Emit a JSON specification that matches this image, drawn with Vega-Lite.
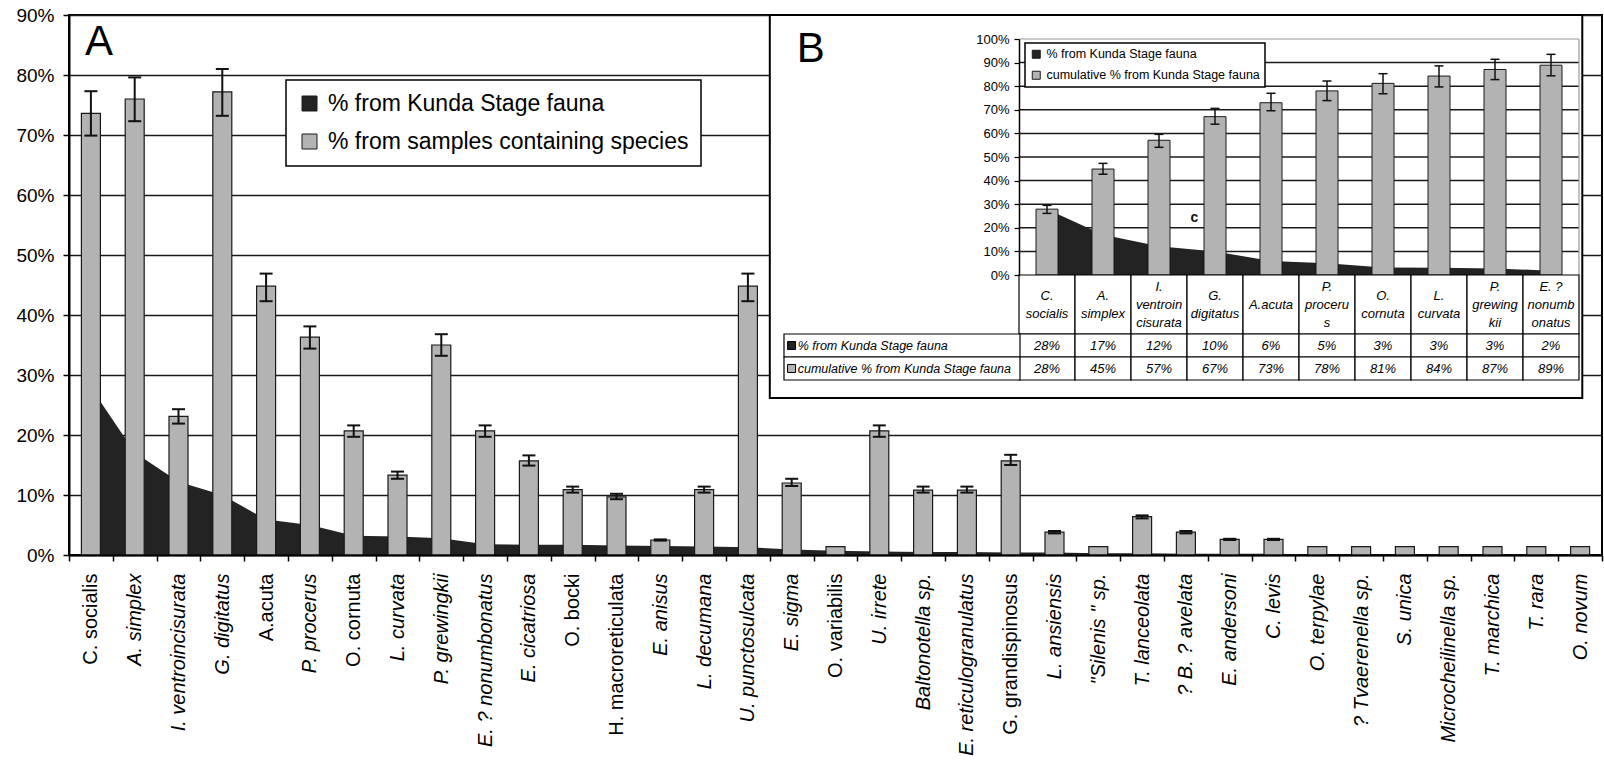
{
  "$schema": "https://vega.github.io/schema/vega-lite/v6.json",
  "width": 1533,
  "height": 540,
  "autosize": {"type": "none"},
  "padding": {"left": 69, "top": 15, "right": 2, "bottom": 205},
  "background": "white",
  "config": {
    "font": "Liberation Sans",
    "view": {"stroke": "black", "strokeWidth": 2},
    "axis": {"domainColor": "black", "tickColor": "black", "labelColor": "black"},
    "legend": {"strokeWidth": 1.5}
  },
  "datasets": {
    "main": [
      {"species": "C. socialis", "kunda": 0.279, "samples": 0.736, "lo": 0.699, "hi": 0.773},
      {"species": "A. simplex", "kunda": 0.171, "samples": 0.760, "lo": 0.723, "hi": 0.796},
      {"species": "I. ventroincisurata", "kunda": 0.122, "samples": 0.231, "lo": 0.219, "hi": 0.243},
      {"species": "G. digitatus", "kunda": 0.100, "samples": 0.772, "lo": 0.732, "hi": 0.810},
      {"species": "A.acuta", "kunda": 0.059, "samples": 0.448, "lo": 0.423, "hi": 0.469},
      {"species": "P. procerus", "kunda": 0.050, "samples": 0.363, "lo": 0.344, "hi": 0.381},
      {"species": "O. cornuta", "kunda": 0.032, "samples": 0.207, "lo": 0.197, "hi": 0.216},
      {"species": "L. curvata", "kunda": 0.031, "samples": 0.133, "lo": 0.127, "hi": 0.139},
      {"species": "P. grewingkii", "kunda": 0.028, "samples": 0.350, "lo": 0.332, "hi": 0.368},
      {"species": "E. ? nonumbonatus", "kunda": 0.018, "samples": 0.207, "lo": 0.197, "hi": 0.216},
      {"species": "E. cicatriosa", "kunda": 0.017, "samples": 0.157, "lo": 0.149, "hi": 0.166},
      {"species": "O. bocki", "kunda": 0.017, "samples": 0.109, "lo": 0.104, "hi": 0.114},
      {"species": "H. macroreticulata", "kunda": 0.016, "samples": 0.097, "lo": 0.093, "hi": 0.102},
      {"species": "E. anisus", "kunda": 0.015, "samples": 0.025, "lo": 0.024, "hi": 0.026},
      {"species": "L. decumana", "kunda": 0.014, "samples": 0.109, "lo": 0.104, "hi": 0.114},
      {"species": "U. punctosulcata", "kunda": 0.013, "samples": 0.448, "lo": 0.423, "hi": 0.469},
      {"species": "E. sigma", "kunda": 0.009, "samples": 0.120, "lo": 0.115, "hi": 0.127},
      {"species": "O. variabilis", "kunda": 0.007, "samples": 0.0139},
      {"species": "U. irrete", "kunda": 0.006, "samples": 0.207, "lo": 0.197, "hi": 0.216},
      {"species": "Baltonotella sp.", "kunda": 0.005, "samples": 0.108, "lo": 0.104, "hi": 0.114},
      {"species": "E. reticulogranulatus", "kunda": 0.005, "samples": 0.108, "lo": 0.104, "hi": 0.114},
      {"species": "G. grandispinosus", "kunda": 0.004, "samples": 0.157, "lo": 0.150, "hi": 0.167},
      {"species": "L. ansiensis", "kunda": 0.004, "samples": 0.038, "lo": 0.036, "hi": 0.040},
      {"species": "\"Silenis \" sp.", "kunda": 0.003, "samples": 0.0139},
      {"species": "T. lanceolata", "kunda": 0.003, "samples": 0.064, "lo": 0.061, "hi": 0.066},
      {"species": "? B. ? avelata", "kunda": 0.002, "samples": 0.038, "lo": 0.036, "hi": 0.040},
      {"species": "E. andersoni", "kunda": 0.002, "samples": 0.026, "lo": 0.025, "hi": 0.027},
      {"species": "C. levis", "kunda": 0.002, "samples": 0.026, "lo": 0.025, "hi": 0.027},
      {"species": "O. terpylae", "kunda": 0.001, "samples": 0.0139},
      {"species": "? Tvaerenella sp.", "kunda": 0.001, "samples": 0.0139},
      {"species": "S. unica", "kunda": 0.001, "samples": 0.0139},
      {"species": "Microcheilinella sp.", "kunda": 0.001, "samples": 0.0139},
      {"species": "T. marchica", "kunda": 0.001, "samples": 0.0139},
      {"species": "T. rara", "kunda": 0.001, "samples": 0.0139},
      {"species": "O. novum", "kunda": 0.001, "samples": 0.0139}
    ],
    "inset": [
      {"species": "C. socialis", "hdr": "C.\nsocialis", "kunda": 0.279, "cum": 0.279, "lo": 0.261, "hi": 0.295},
      {"species": "A. simplex", "hdr": "A.\nsimplex", "kunda": 0.171, "cum": 0.449, "lo": 0.427, "hi": 0.473},
      {"species": "I. ventroincisurata", "hdr": "I.\nventroin\ncisurata", "kunda": 0.122, "cum": 0.571, "lo": 0.541, "hi": 0.596},
      {"species": "G. digitatus", "hdr": "G.\ndigitatus", "kunda": 0.100, "cum": 0.671, "lo": 0.639, "hi": 0.706},
      {"species": "A.acuta", "hdr": "A.acuta", "kunda": 0.059, "cum": 0.730, "lo": 0.696, "hi": 0.770},
      {"species": "P. procerus", "hdr": "P.\nproceru\ns", "kunda": 0.050, "cum": 0.780, "lo": 0.739, "hi": 0.822},
      {"species": "O. cornuta", "hdr": "O.\ncornuta", "kunda": 0.032, "cum": 0.812, "lo": 0.768, "hi": 0.853},
      {"species": "L. curvata", "hdr": "L.\ncurvata", "kunda": 0.031, "cum": 0.843, "lo": 0.797, "hi": 0.886},
      {"species": "P. grewingkii", "hdr": "P.\ngrewing\nkii", "kunda": 0.028, "cum": 0.871, "lo": 0.828, "hi": 0.914},
      {"species": "E. ? nonumbonatus", "hdr": "E. ?\nnonumb\nonatus", "kunda": 0.018, "cum": 0.889, "lo": 0.844, "hi": 0.935}
    ],
    "insetgrid": [
      {"g": 0.1}, {"g": 0.2}, {"g": 0.3}, {"g": 0.4}, {"g": 0.5}, {"g": 0.6}, {"g": 0.7}, {"g": 0.8}, {"g": 0.9}
    ]
  },
  "layer": [
    {
      "data": {"name": "main"},
      "encoding": {
        "x": {
          "field": "species", "type": "nominal",
          "scale": {
            "domain": ["C. socialis", "A. simplex", "I. ventroincisurata", "G. digitatus", "A.acuta", "P. procerus", "O. cornuta", "L. curvata", "P. grewingkii", "E. ? nonumbonatus", "E. cicatriosa", "O. bocki", "H. macroreticulata", "E. anisus", "L. decumana", "U. punctosulcata", "E. sigma", "O. variabilis", "U. irrete", "Baltonotella sp.", "E. reticulogranulatus", "G. grandispinosus", "L. ansiensis", "\"Silenis \" sp.", "T. lanceolata", "? B. ? avelata", "E. andersoni", "C. levis", "O. terpylae", "? Tvaerenella sp.", "S. unica", "Microcheilinella sp.", "T. marchica", "T. rara", "O. novum"],
            "paddingInner": 0, "paddingOuter": 0
          },
          "axis": {
            "title": null, "labelAngle": 270, "labelFontSize": 20,
            "labelFontStyle": {"condition": {"test": "indexof(['C. socialis','A.acuta','O. cornuta','O. bocki','H. macroreticulata','O. variabilis','G. grandispinosus'], datum.value) >= 0", "value": "normal"}, "value": "italic"},
            "labelPadding": 12, "labelOverlap": false, "labelLimit": 300,
            "tickSize": 6, "tickWidth": 1.5, "tickBand": "extent", "domainWidth": 2, "zindex": 1
          }
        }
      },
      "layer": [
        {
          "mark": {"type": "area", "interpolate": "linear", "opacity": 1},
          "encoding": {
            "y": {
              "field": "kunda", "type": "quantitative", "stack": null,
              "scale": {"domain": [0, 0.9], "nice": false},
              "axis": {"title": null, "values": [0, 0.1, 0.2, 0.3, 0.4, 0.5, 0.6, 0.7, 0.8, 0.9], "format": ".0%", "labelFontSize": 19, "labelPadding": 9, "tickSize": 6, "tickWidth": 1.5, "domainWidth": 2, "grid": true, "gridColor": "#1a1a1a", "gridWidth": 1.6}
            },
            "color": {
              "datum": "% from Kunda Stage fauna", "type": "nominal",
              "scale": {"domain": ["% from Kunda Stage fauna", "% from samples containing species"], "range": ["#232323", "#b3b3b3"]},
              "legend": {"title": null, "orient": "none", "legendX": 217, "legendY": 65, "labelFontSize": 23, "labelLimit": 500, "symbolType": "square", "symbolSize": 225, "symbolStrokeColor": "black", "symbolStrokeWidth": 1, "symbolOpacity": 1, "fillColor": "white", "strokeColor": "black", "padding": 12, "rowPadding": 14, "labelOffset": 7}
            }
          }
        },
        {
          "mark": {"type": "bar", "size": 19, "stroke": "#1a1a1a", "strokeWidth": 1.2, "opacity": 1},
          "encoding": {
            "y": {"field": "samples", "type": "quantitative", "stack": null},
            "color": {"datum": "% from samples containing species", "type": "nominal"}
          }
        },
        {
          "transform": [{"filter": "isValid(datum.lo)"}],
          "mark": {"type": "rule", "color": "#111111", "strokeWidth": 2},
          "encoding": {"y": {"field": "lo", "type": "quantitative"}, "y2": {"field": "hi"}}
        },
        {
          "transform": [{"filter": "isValid(datum.lo)"}],
          "mark": {"type": "tick", "color": "#111111", "size": 13, "thickness": 2, "opacity": 1},
          "encoding": {"y": {"field": "lo", "type": "quantitative"}}
        },
        {
          "transform": [{"filter": "isValid(datum.hi)"}],
          "mark": {"type": "tick", "color": "#111111", "size": 13, "thickness": 2, "opacity": 1},
          "encoding": {"y": {"field": "hi", "type": "quantitative"}}
        },
        {
          "data": {"values": [{"panel": "B"}]},
          "mark": {"type": "rect", "fill": "white", "stroke": "black", "strokeWidth": 2},
          "encoding": {
            "x": {"datum": "E. sigma", "bandPosition": 0},
            "x2": {"datum": "O. novum", "bandPosition": 0.55},
            "y": {"datum": 0.9, "type": "quantitative"},
            "y2": {"datum": 0.2617}
          }
        },
        {
          "data": {"values": [{"panel": "A"}]},
          "mark": {"type": "text", "fontSize": 42, "align": "left", "baseline": "alphabetic", "dx": 16, "color": "black"},
          "encoding": {
            "x": {"datum": "C. socialis", "bandPosition": 0},
            "y": {"datum": 0.8333, "type": "quantitative"},
            "text": {"field": "panel"}
          }
        },
        {
          "data": {"values": [{"panel": "B"}]},
          "mark": {"type": "text", "fontSize": 42, "align": "left", "baseline": "alphabetic", "dx": 27, "color": "black"},
          "encoding": {
            "x": {"datum": "E. sigma", "bandPosition": 0},
            "y": {"datum": 0.8217, "type": "quantitative"},
            "text": {"field": "panel"}
          }
        }
      ]
    },
    {
      "data": {"name": "inset"},
      "encoding": {
        "x": {
          "field": "species", "type": "nominal",
          "scale": {
            "domain": ["C. socialis", "A. simplex", "I. ventroincisurata", "G. digitatus", "A.acuta", "P. procerus", "O. cornuta", "L. curvata", "P. grewingkii", "E. ? nonumbonatus"],
            "range": [950, 1510], "paddingInner": 0, "paddingOuter": 0
          },
          "axis": null
        }
      },
      "layer": [
        {
          "layer": [
            {
              "data": {"name": "insetgrid"},
              "mark": {"type": "rule", "color": "#1a1a1a", "strokeWidth": 1.5},
              "encoding": {
                "x": {"datum": "C. socialis", "bandPosition": 0},
                "x2": {"datum": "E. ? nonumbonatus", "bandPosition": 1},
                "y": {
                  "field": "g", "type": "quantitative",
                  "scale": {"domain": [0, 1], "range": [260, 24], "nice": false},
                  "axis": {"title": null, "orient": "left", "offset": -950, "zindex": 1, "grid": false, "values": [0, 0.1, 0.2, 0.3, 0.4, 0.5, 0.6, 0.7, 0.8, 0.9, 1], "format": ".0%", "labelFontSize": 13, "labelPadding": 5, "tickSize": 5, "tickWidth": 1.2, "domainWidth": 1.5}
                }
              }
            },
            {
              "data": {"values": [{"edge": "top"}]},
              "mark": {"type": "rule", "color": "#9a9a9a", "strokeWidth": 1.2},
              "encoding": {
                "x": {"datum": "C. socialis", "bandPosition": 0},
                "x2": {"datum": "E. ? nonumbonatus", "bandPosition": 1},
                "y": {"datum": 1, "type": "quantitative"}
              }
            },
            {
              "data": {"values": [{"edge": "right"}]},
              "mark": {"type": "rule", "color": "#9a9a9a", "strokeWidth": 1.2},
              "encoding": {
                "x": {"datum": "E. ? nonumbonatus", "bandPosition": 1},
                "y": {"datum": 0, "type": "quantitative"},
                "y2": {"datum": 1}
              }
            },
            {
              "mark": {"type": "area", "interpolate": "linear", "opacity": 1},
              "encoding": {
                "y": {"field": "kunda", "type": "quantitative", "stack": null},
                "color": {
                  "datum": "% from Kunda Stage fauna", "type": "nominal",
                  "scale": {"domain": ["% from Kunda Stage fauna", "cumulative % from Kunda Stage fauna"], "range": ["#232323", "#b3b3b3"]},
                  "legend": {"title": null, "orient": "none", "legendX": 956, "legendY": 28, "labelFontSize": 12.5, "labelLimit": 400, "symbolType": "square", "symbolSize": 64, "symbolStrokeColor": "black", "symbolStrokeWidth": 1, "symbolOpacity": 1, "fillColor": "white", "strokeColor": "black", "padding": 5, "rowPadding": 8, "labelOffset": 4}
                }
              }
            },
            {
              "mark": {"type": "bar", "size": 22, "stroke": "#1a1a1a", "strokeWidth": 1, "opacity": 1},
              "encoding": {
                "y": {"field": "cum", "type": "quantitative", "stack": null},
                "color": {"datum": "cumulative % from Kunda Stage fauna", "type": "nominal"}
              }
            },
            {
              "mark": {"type": "rule", "color": "#111111", "strokeWidth": 1.5},
              "encoding": {"y": {"field": "lo", "type": "quantitative"}, "y2": {"field": "hi"}}
            },
            {
              "mark": {"type": "tick", "color": "#111111", "size": 9, "thickness": 1.5, "opacity": 1},
              "encoding": {"y": {"field": "lo", "type": "quantitative"}}
            },
            {
              "mark": {"type": "tick", "color": "#111111", "size": 9, "thickness": 1.5, "opacity": 1},
              "encoding": {"y": {"field": "hi", "type": "quantitative"}}
            },
            {
              "data": {"values": [{"t": "c"}]},
              "mark": {"type": "text", "fontSize": 14, "fontWeight": "bold", "align": "center", "baseline": "middle", "color": "#111111"},
              "encoding": {
                "x": {"datum": "G. digitatus", "bandPosition": 0.13},
                "y": {"datum": 0.241, "type": "quantitative"},
                "text": {"field": "t"}
              }
            }
          ]
        },
        {
          "layer": [
            {
              "mark": {"type": "rect", "fill": "white", "stroke": "black", "strokeWidth": 1.2},
              "encoding": {
                "y": {"datum": "header", "type": "nominal", "scale": {"domain": ["header"], "range": [260, 319], "paddingInner": 0, "paddingOuter": 0}, "axis": null}
              }
            },
            {
              "transform": [{"filter": "length(split(datum.hdr, '\\n')) == 1"}],
              "mark": {"type": "text", "lineBreak": "\n", "fontSize": 13, "fontStyle": "italic", "lineHeight": 18, "baseline": "middle", "align": "center", "color": "black"},
              "encoding": {
                "y": {"datum": "header", "type": "nominal"},
                "text": {"field": "hdr"}
              }
            },
            {
              "transform": [{"filter": "length(split(datum.hdr, '\\n')) == 2"}],
              "mark": {"type": "text", "lineBreak": "\n", "fontSize": 13, "fontStyle": "italic", "lineHeight": 18, "baseline": "middle", "align": "center", "dy": -9, "color": "black"},
              "encoding": {
                "y": {"datum": "header", "type": "nominal"},
                "text": {"field": "hdr"}
              }
            },
            {
              "transform": [{"filter": "length(split(datum.hdr, '\\n')) == 3"}],
              "mark": {"type": "text", "lineBreak": "\n", "fontSize": 13, "fontStyle": "italic", "lineHeight": 18, "baseline": "middle", "align": "center", "dy": -18, "color": "black"},
              "encoding": {
                "y": {"datum": "header", "type": "nominal"},
                "text": {"field": "hdr"}
              }
            }
          ]
        },
        {
          "layer": [
            {
              "mark": {"type": "rect", "fill": "white", "stroke": "black", "strokeWidth": 1.2},
              "encoding": {
                "y": {"datum": "kunda", "type": "nominal", "scale": {"domain": ["kunda", "cum"], "range": [319, 365], "paddingInner": 0, "paddingOuter": 0}, "axis": null}
              }
            },
            {
              "mark": {"type": "rect", "fill": "white", "stroke": "black", "strokeWidth": 1.2},
              "encoding": {"y": {"datum": "cum", "type": "nominal"}}
            },
            {
              "mark": {"type": "text", "fontSize": 13, "fontStyle": "italic", "baseline": "middle", "align": "center", "color": "black"},
              "encoding": {"y": {"datum": "kunda", "type": "nominal"}, "text": {"field": "kunda", "type": "quantitative", "format": ".0%"}}
            },
            {
              "mark": {"type": "text", "fontSize": 13, "fontStyle": "italic", "baseline": "middle", "align": "center", "color": "black"},
              "encoding": {"y": {"datum": "cum", "type": "nominal"}, "text": {"field": "cum", "type": "quantitative", "format": ".0%"}}
            }
          ]
        }
      ],
      "resolve": {"scale": {"y": "independent"}}
    },
    {
      "data": {"values": [{"row": "kunda", "label": "% from Kunda Stage fauna"}, {"row": "cum", "label": "cumulative % from Kunda Stage fauna"}]},
      "encoding": {
        "y": {"field": "row", "type": "nominal", "scale": {"domain": ["kunda", "cum"], "range": [319, 365], "paddingInner": 0, "paddingOuter": 0}, "axis": null}
      },
      "layer": [
        {
          "mark": {"type": "rect", "fill": "white", "stroke": "black", "strokeWidth": 1.2},
          "encoding": {
            "x": {"datum": "label", "type": "nominal", "scale": {"domain": ["label"], "range": [715, 951], "paddingInner": 0, "paddingOuter": 0}, "axis": null}
          }
        },
        {
          "mark": {"type": "point", "shape": "square", "filled": true, "size": 64, "opacity": 1, "stroke": "black", "strokeWidth": 1},
          "encoding": {
            "x": {"datum": "label", "bandPosition": 0.032},
            "color": {"field": "row", "type": "nominal", "scale": {"domain": ["kunda", "cum"], "range": ["#232323", "#b3b3b3"]}, "legend": null}
          }
        },
        {
          "mark": {"type": "text", "align": "left", "baseline": "middle", "fontSize": 12.5, "fontStyle": "italic", "color": "black"},
          "encoding": {
            "x": {"datum": "label", "bandPosition": 0.058},
            "text": {"field": "label"}
          }
        }
      ]
    }
  ],
  "resolve": {"scale": {"x": "independent", "y": "independent", "color": "independent"}}
}
